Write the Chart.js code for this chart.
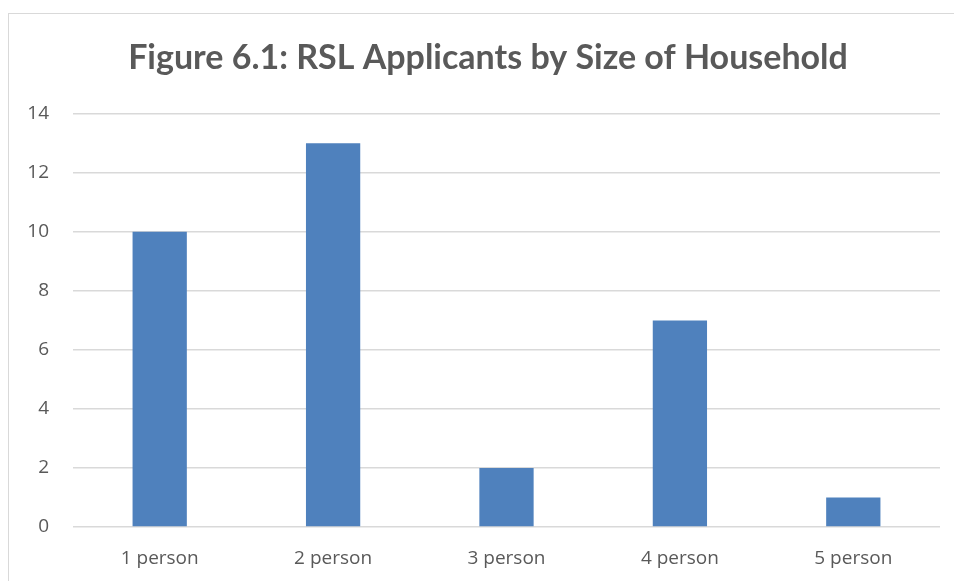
<!DOCTYPE html>
<html>
<head>
<meta charset="utf-8">
<script src="https://cdn.jsdelivr.net/npm/chart.js@4"></script>
<style>
  html, body { margin: 0; padding: 0; background: #fff; overflow: hidden; }
  #frame {
    position: absolute; left: 8px; top: 13px;
    width: 1000px; height: 1000px;
    border: 1px solid #d9d9d9;
  }
  #wrap { position: absolute; left: 0; top: 0; width: 954px; height: 581px; }
</style>
</head>
<body>
<div id="frame"></div>
<div id="wrap"><canvas id="sizeChart"></canvas></div>
<script>
// Household size categories and applicant counts
const householdSizes = ['1 person', '2 person', '3 person', '4 person', '5 person'];
const applicants = [10, 13, 2, 7, 1];
const yTicks = [0, 2, 4, 6, 8, 10, 12, 14];

const textGrey = '#595959';
const gridGrey = '#d9d9d9';

// nudge the title so it sits centred over the whole frame
const titleShift = {
    id: 'titleShift',
    afterLayout(chart) {
        if (chart.titleBlock) chart.titleBlock.left += 16;
    }
};

const ctx = document.getElementById('sizeChart').getContext('2d');
const sizeChart = new Chart(ctx, {
    type: 'bar',
    data: {
        labels: householdSizes,
        datasets: [{
            label: 'Applicants',
            data: applicants,
            backgroundColor: '#4f81bd',
            categoryPercentage: 1,
            barPercentage: 0.313
        }]
    },
    plugins: [titleShift],
    options: {
        responsive: true,
        maintainAspectRatio: false,
        animation: false,
        layout: { padding: { left: 20, right: 14, top: 0, bottom: 0 } },
        plugins: {
            legend: { display: false },
            tooltip: { enabled: false },
            title: {
                display: true,
                text: 'Figure 6.1: RSL Applicants by Size of Household',
                color: textGrey,
                font: { family: 'Lato', size: 34, weight: 'bold' },
                padding: { top: 38, bottom: 35 }
            }
        },
        scales: {
            x: {
                grid: { display: false, drawTicks: false },
                border: { display: false },
                ticks: {
                    color: textGrey,
                    font: { family: 'Open Sans', size: 19 },
                    padding: 20
                },
                afterFit(scale) { scale.height = 54; }
            },
            y: {
                min: 0,
                max: 14,
                afterBuildTicks(scale) { scale.ticks = yTicks.map(v => ({ value: v })); },
                grid: { color: gridGrey, lineWidth: 1.5, drawTicks: false },
                border: { display: false },
                ticks: {
                    color: textGrey,
                    font: { family: 'Open Sans', size: 19 },
                    padding: 24
                },
                afterFit(scale) { scale.width = 53; }
            }
        }
    }
});
</script>
</body>
</html>
